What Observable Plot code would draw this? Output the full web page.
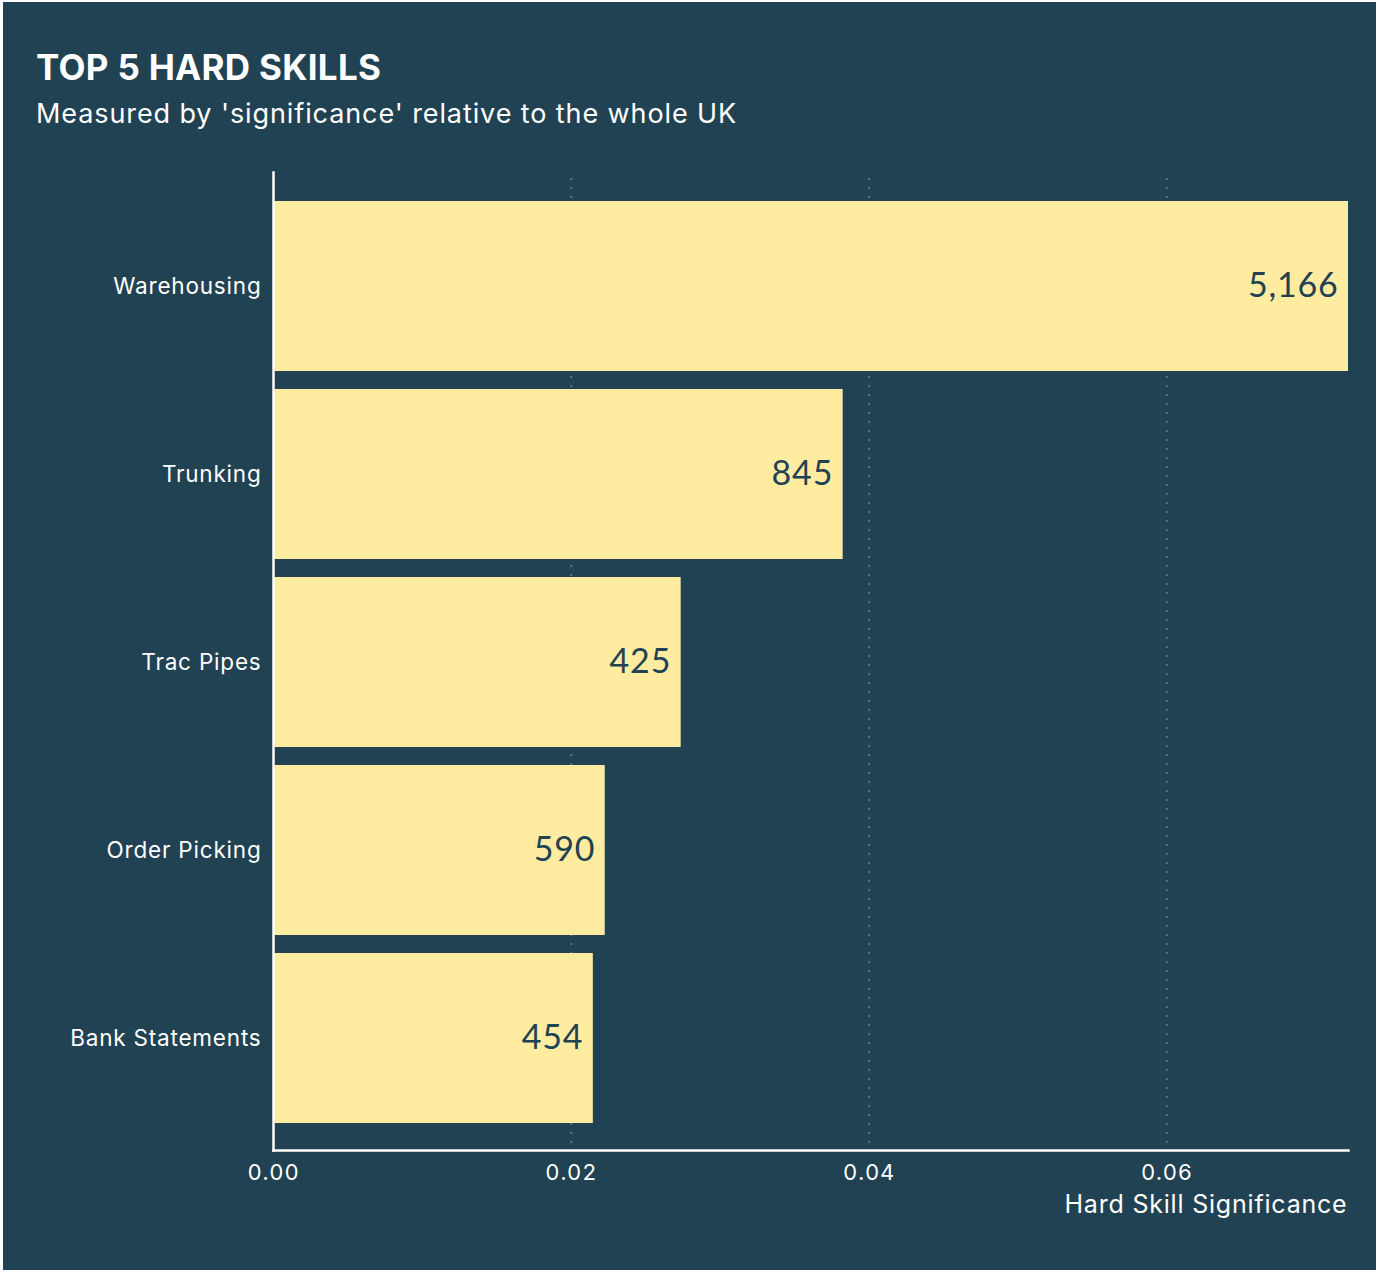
<!DOCTYPE html>
<html>
<head>
<meta charset="utf-8">
<script src="https://cdn.jsdelivr.net/npm/d3@7"></script>
<script src="https://cdn.jsdelivr.net/npm/@observablehq/plot@0.6"></script>
<style>
  html, body { margin: 0; padding: 0; background: #ffffff; }
  #panel {
    position: absolute; left: 3px; top: 2px; width: 1373px; height: 1268px;
    background: #214252; font-family: Inter, Lato, sans-serif; color: #ffffff;
  }
  #title { position: absolute; left: 33px; top: 48px; font-size: 35px; font-weight: 700; line-height: 1; letter-spacing: 0.3px; }
  #subtitle { position: absolute; left: 33px; top: 98px; font-size: 27px; font-weight: 400; line-height: 1; letter-spacing: 0.9px; }
  #chart { position: absolute; left: 0; top: 146px; }
  #chart svg { letter-spacing: 0.8px; }
</style>
</head>
<body>
<div id="panel">
  <div id="title">TOP 5 HARD SKILLS</div>
  <div id="subtitle">Measured by 'significance' relative to the whole UK</div>
  <div id="chart"></div>
</div>
<script>
const skills = ["Warehousing", "Trunking", "Trac Pipes", "Order Picking", "Bank Statements"];
const significance = [0.0722, 0.03826, 0.02738, 0.02228, 0.02148];
const counts = [5166, 845, 425, 590, 454];
const xTicks = [0, 0.02, 0.04, 0.06];
const xLabel = "Hard Skill Significance";

const data = skills.map((s, i) => ({skill: s, value: significance[i], count: counts[i]}));

const chart = Plot.plot({
  width: 1373,
  height: 1102,
  marginTop: 24,
  marginBottom: 100,
  marginLeft: 270,
  marginRight: 28,
  style: {background: "transparent", fontFamily: "Inter, Lato, sans-serif", color: "#ffffff"},
  x: {domain: [0, 0.0722], ticks: xTicks, tickFormat: d3.format(".2f"), label: null},
  y: {domain: skills, paddingInner: 0.097, paddingOuter: 0, insetTop: 28, insetBottom: 27, label: null},
  marks: [
    Plot.gridX(xTicks.slice(1), {stroke: "#8aa1ad", strokeOpacity: 1, strokeWidth: 1, strokeDasharray: "2,7", insetTop: 6}),
    Plot.barX(data, {x: "value", y: "skill", fill: "#ffeca1"}),
    Plot.text(data, {x: "value", y: "skill", text: d => d3.format(",")(d.count), textAnchor: "end", dx: -10, fill: "#214252", fontSize: 34, fontFamily: "Lato, sans-serif"}),
    Plot.axisY({tickSize: 0, tickPadding: 12, fontSize: 22.5, fill: "#ffffff", label: null}),
    Plot.axisX({ticks: xTicks, tickFormat: d3.format(".2f"), tickSize: 0, tickPadding: 14, fontSize: 22, fill: "#ffffff", label: null}),
    Plot.frame({anchor: "left", stroke: "#ffffff", strokeWidth: 2.5}),
    Plot.frame({anchor: "bottom", stroke: "#ffffff", strokeWidth: 2.5}),
    Plot.text([xLabel], {frameAnchor: "bottom-right", textAnchor: "end", lineAnchor: "middle", dy: 54, dx: -1, fill: "#ffffff", fontSize: 25})
  ]
});
document.getElementById("chart").appendChild(chart);
</script>
</body>
</html>
